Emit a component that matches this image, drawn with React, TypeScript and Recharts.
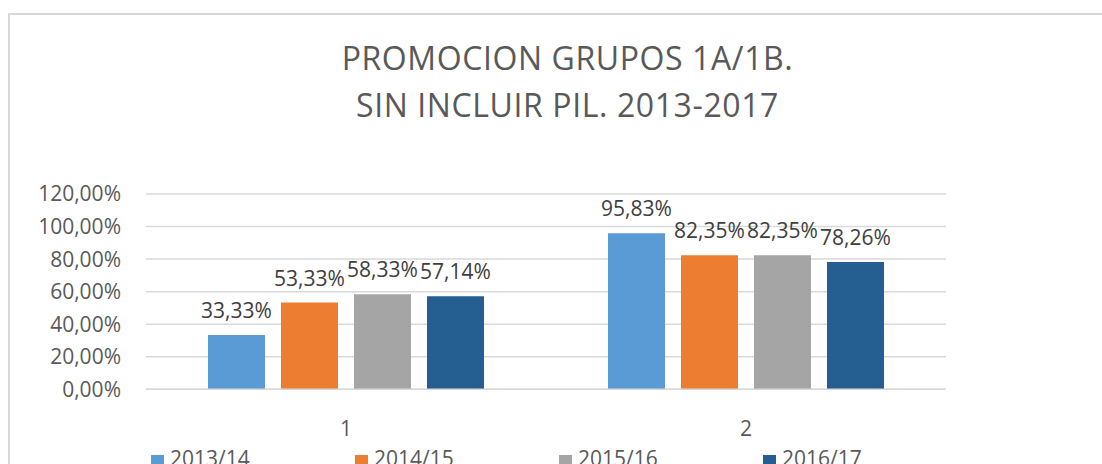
import { BarChart, Bar, XAxis, YAxis, CartesianGrid, Legend, LabelList } from "recharts";

const categories = ["1", "2"];
const seriesNames = ["2013/14", "2014/15", "2015/16", "2016/17"];
const values2013 = [0.3333, 0.9583];
const values2014 = [0.5333, 0.8235];
const values2015 = [0.5833, 0.8235];
const values2016 = [0.5714, 0.7826];
const yTicks = [0, 0.2, 0.4, 0.6, 0.8, 1.0, 1.2];
const titleLines = ["PROMOCION GRUPOS 1A/1B.", "SIN INCLUIR PIL. 2013-2017"];

const COLORS = ["#5B9BD5", "#ED7D31", "#A5A5A5", "#255E91"];

const seriesValues = [values2013, values2014, values2015, values2016];

const data = categories.map((cat, i) => {
  const row: Record<string, string | number> = { cat };
  seriesNames.forEach((name, s) => {
    row[name] = seriesValues[s][i];
  });
  return row;
});

const pct = (v: number) => (v * 100).toFixed(2).replace(".", ",") + "%";

function LegendContent() {
  return (
    <div style={{ display: "flex", fontSize: 21, color: "#595959", lineHeight: "24px" }}>
      {seriesNames.map((name, i) => (
        <div key={name} style={{ width: 204, display: "flex", alignItems: "flex-start" }}>
          <span style={{ width: 13, height: 13, marginTop: 9.5, marginRight: 6, background: COLORS[i], display: "inline-block" }} />
          <span>{name}</span>
        </div>
      ))}
    </div>
  );
}

export default function App() {
  return (
    <div
      style={{
        position: "fixed",
        left: 8,
        top: 13,
        width: 1094,
        height: 451,
        overflow: "hidden",
        borderTop: "2px solid #d9d9d9",
        borderLeft: "2px solid #d9d9d9",
        boxSizing: "border-box",
        background: "#fff",
        fontFamily: "'Open Sans', sans-serif",
      }}
    >
      <div
        style={{
          position: "absolute",
          left: 0,
          top: 19,
          width: 1115,
          textAlign: "center",
          fontSize: 32,
          lineHeight: "47px",
          letterSpacing: 0.6,
          color: "#595959",
        }}
      >
        {titleLines.map((t) => (
          <div key={t}>{t}</div>
        ))}
      </div>
      <BarChart
        width={1092}
        height={460}
        data={data}
        margin={{ top: 179, right: 156, left: 0, bottom: 25.7 }}
        barSize={57}
        barGap={16}
      >
        <CartesianGrid vertical={false} stroke="#d9d9d9" strokeWidth={1.5} />
        <XAxis
          dataKey="cat"
          height={60}
          tickSize={0}
          tickMargin={32}
          axisLine={{ stroke: "#d9d9d9", strokeWidth: 1.5 }}
          tick={{ fill: "#595959", fontSize: 21 }}
        />
        <YAxis
          width={136}
          domain={[0, 1.2]}
          ticks={yTicks}
          tickFormatter={pct}
          tickSize={0}
          tickMargin={25}
          axisLine={false}
          tick={{ fill: "#595959", fontSize: 21 }}
        />
        <Legend
          verticalAlign="middle"
          align="center"
          layout="horizontal"
          content={<LegendContent />}
          wrapperStyle={{ top: 430.5, left: 141, width: 900 }}
        />
        {seriesNames.map((name, i) => (
          <Bar key={name} dataKey={name} fill={COLORS[i]} isAnimationActive={false}>
            <LabelList
              dataKey={name}
              position="top"
              offset={17}
              formatter={(v: any) => pct(Number(v))}
              style={{ fill: "#404040", fontSize: 21 }}
            />
          </Bar>
        ))}
      </BarChart>
    </div>
  );
}
